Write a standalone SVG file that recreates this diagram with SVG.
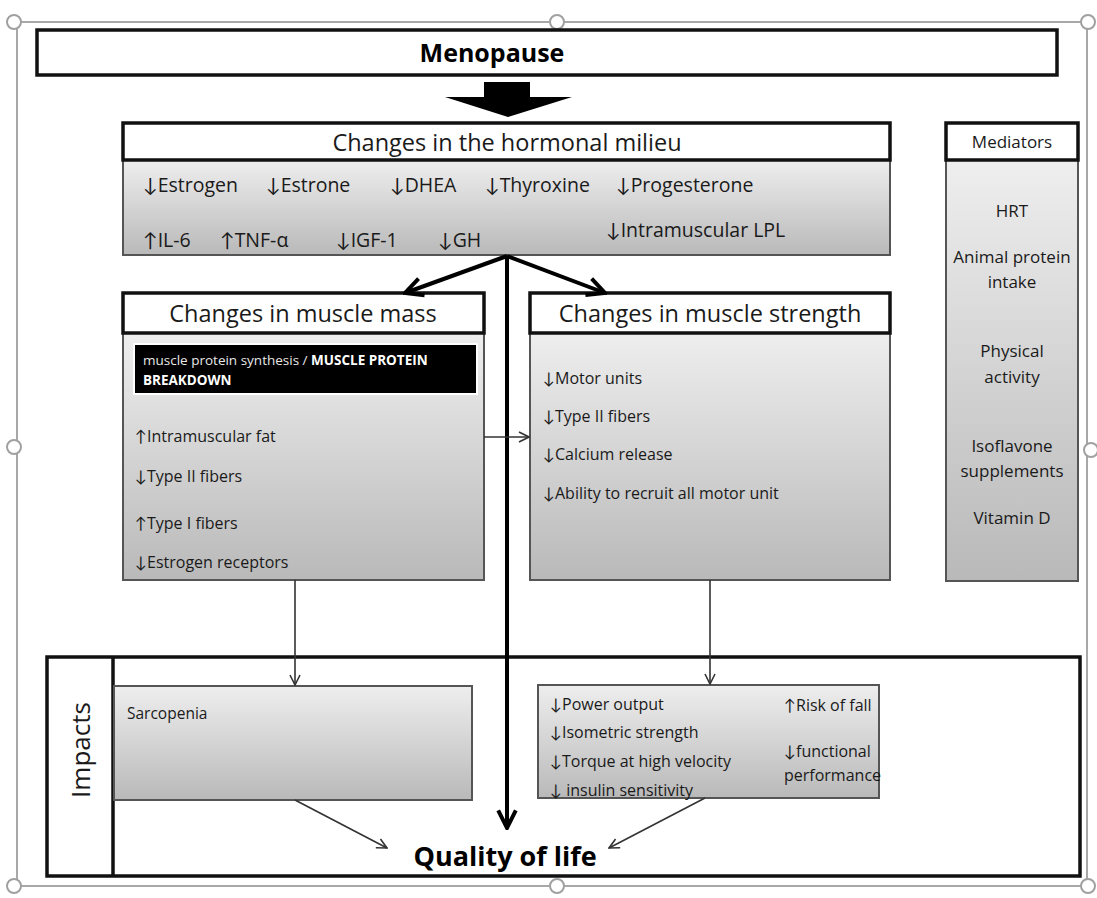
<svg xmlns="http://www.w3.org/2000/svg" width="1097" height="898" viewBox="0 0 1097 898">
  <defs>
    <linearGradient id="bodyFill" x1="0" y1="0" x2="0" y2="1">
      <stop offset="0" stop-color="#eeeeee"/>
      <stop offset="1" stop-color="#b9b9b9"/>
    </linearGradient>
    <marker id="openHead" viewBox="0 0 12 12" refX="11" refY="6" markerWidth="12" markerHeight="12" markerUnits="userSpaceOnUse" orient="auto">
      <path d="M1,1 L11,6 L1,11" fill="none" stroke="#333" stroke-width="1.6"/>
    </marker>
    <marker id="boldHead" viewBox="0 0 20 20" refX="18" refY="10" markerWidth="22" markerHeight="22" markerUnits="userSpaceOnUse" orient="auto">
      <path d="M2,2 L18,10 L2,18" fill="none" stroke="#000" stroke-width="3.6"/>
    </marker>
  </defs>
  <style>
    text { font-family: "Open Sans", "Liberation Sans", sans-serif; fill: #1a1a1a; }
    .ar { font-family: Lato, "DejaVu Sans", sans-serif; }
    .frame { fill: none; stroke: #a8a8a8; stroke-width: 2; }
    .handle { fill: #ffffff; stroke: #a0a0a0; stroke-width: 2; }
    .head { fill: #ffffff; stroke: #111; stroke-width: 3.5; }
    .body { fill: url(#bodyFill); stroke: #555; stroke-width: 2; }
    .outer { fill: none; stroke: #111; stroke-width: 3.5; }
    .title { font-size: 23.5px; text-anchor: middle; }
    .item { font-size: 19.5px; }
    .small { font-size: 16px; }
    .med { font-size: 17px; text-anchor: middle; }
    .thin { fill: none; stroke: #333; stroke-width: 1.6; marker-end: url(#openHead); }
    .bold { fill: none; stroke: #000; stroke-width: 4; marker-end: url(#boldHead); }
  </style>

  <rect width="1097" height="898" fill="#ffffff"/>

  <!-- canvas selection frame with handles -->
  <g id="canvas-frame">
    <rect class="frame" x="17" y="22" width="1070" height="864"/>
    <circle class="handle" cx="14" cy="22" r="7"/>
    <circle class="handle" cx="557" cy="22" r="7"/>
    <circle class="handle" cx="1088" cy="22" r="7"/>
    <circle class="handle" cx="14" cy="447" r="7"/>
    <circle class="handle" cx="1091" cy="450" r="7"/>
    <circle class="handle" cx="14" cy="886" r="7"/>
    <circle class="handle" cx="557" cy="886" r="7"/>
    <circle class="handle" cx="1088" cy="886" r="7"/>
  </g>

  <!-- Menopause -->
  <g id="menopause">
    <rect class="head" x="37" y="30" width="1020" height="45"/>
    <text x="492" y="62" font-size="25" font-weight="bold" text-anchor="middle" style="fill:#000">Menopause</text>
  </g>

  <!-- block arrow into hormonal milieu -->
  <g id="block-arrow">
    <polygon points="484,82 530,82 530,97 572,97 508,117 445,97 484,97" fill="#000"/>
  </g>

  <!-- Hormonal milieu -->
  <g id="hormonal">
    <rect class="body" x="123" y="160" width="767" height="95"/>
    <rect class="head" x="123" y="123" width="767" height="37"/>
    <text class="title" x="507" y="151" font-size="26">Changes in the hormonal milieu</text>
    <text class="item" x="143" y="192"><tspan class="ar">↓</tspan>Estrogen</text>
    <text class="item" x="266" y="192"><tspan class="ar">↓</tspan>Estrone</text>
    <text class="item" x="390" y="192"><tspan class="ar">↓</tspan>DHEA</text>
    <text class="item" x="485" y="192"><tspan class="ar">↓</tspan>Thyroxine</text>
    <text class="item" x="616" y="192"><tspan class="ar">↓</tspan>Progesterone</text>
    <text class="item" x="143" y="247"><tspan class="ar">↑</tspan>IL-6</text>
    <text class="item" x="220" y="247"><tspan class="ar">↑</tspan>TNF-α</text>
    <text class="item" x="336" y="247"><tspan class="ar">↓</tspan>IGF-1</text>
    <text class="item" x="438" y="247"><tspan class="ar">↓</tspan>GH</text>
    <text class="item" x="606" y="237"><tspan class="ar">↓</tspan>Intramuscular LPL</text>
  </g>

  <!-- Mediators -->
  <g id="mediators">
    <rect class="body" x="946" y="160" width="132" height="421"/>
    <rect class="head" x="946" y="123" width="132" height="37"/>
    <text class="med" x="1012" y="148">Mediators</text>
    <text class="med" x="1012" y="217">HRT</text>
    <text class="med" x="1012" y="263">Animal protein</text>
    <text class="med" x="1012" y="288">intake</text>
    <text class="med" x="1012" y="357">Physical</text>
    <text class="med" x="1012" y="383">activity</text>
    <text class="med" x="1012" y="452">Isoflavone</text>
    <text class="med" x="1012" y="477">supplements</text>
    <text class="med" x="1012" y="524">Vitamin D</text>
  </g>

  <!-- Muscle mass -->
  <g id="muscle-mass">
    <rect class="body" x="123" y="333" width="361" height="247"/>
    <rect class="head" x="123" y="293" width="361" height="40"/>
    <text class="title" x="303" y="322">Changes in muscle mass</text>
    <rect x="134" y="344" width="343" height="50" fill="#000" stroke="#ffffff" stroke-width="2"/>
    <text x="143" y="365" font-size="13.5" style="fill:#e8e8e8">muscle protein synthesis / <tspan font-weight="bold" style="fill:#ffffff">MUSCLE PROTEIN</tspan></text>
    <text x="143" y="385" font-size="13.5" font-weight="bold" style="fill:#ffffff">BREAKDOWN</text>
    <text class="small" x="135" y="442"><tspan class="ar">↑</tspan>Intramuscular fat</text>
    <text class="small" x="135" y="482"><tspan class="ar">↓</tspan>Type II fibers</text>
    <text class="small" x="135" y="529"><tspan class="ar">↑</tspan>Type I fibers</text>
    <text class="small" x="135" y="568"><tspan class="ar">↓</tspan>Estrogen receptors</text>
  </g>

  <!-- Muscle strength -->
  <g id="muscle-strength">
    <rect class="body" x="530" y="333" width="360" height="247"/>
    <rect class="head" x="530" y="293" width="360" height="40"/>
    <text class="title" x="710" y="322">Changes in muscle strength</text>
    <text class="small" x="543" y="384"><tspan class="ar">↓</tspan>Motor units</text>
    <text class="small" x="543" y="422"><tspan class="ar">↓</tspan>Type II fibers</text>
    <text class="small" x="543" y="460"><tspan class="ar">↓</tspan>Calcium release</text>
    <text class="small" x="543" y="499"><tspan class="ar">↓</tspan>Ability to recruit all motor unit</text>
  </g>

  <!-- Impacts -->
  <g id="impacts">
    <rect class="outer" x="47" y="657" width="1033" height="219"/>
    <line x1="113" y1="657" x2="113" y2="876" stroke="#111" stroke-width="3.5"/>
    <text x="0" y="0" font-size="26" text-anchor="middle" transform="translate(90,750) rotate(-90)">Impacts</text>
  </g>

  <g id="sarcopenia">
    <rect class="body" x="114" y="686" width="358" height="114"/>
    <text x="127" y="719" font-size="15.5">Sarcopenia</text>
  </g>

  <g id="strength-impacts">
    <rect class="body" x="538" y="685" width="341" height="113"/>
    <text class="small" x="550" y="710"><tspan class="ar">↓</tspan>Power output</text>
    <text class="small" x="550" y="738"><tspan class="ar">↓</tspan>Isometric strength</text>
    <text class="small" x="550" y="767"><tspan class="ar">↓</tspan>Torque at high velocity</text>
    <text class="small" x="550" y="796"><tspan class="ar">↓</tspan> insulin sensitivity</text>
    <text class="small" x="784" y="711" font-size="15.5"><tspan class="ar">↑</tspan>Risk of fall</text>
    <text class="small" x="784" y="757" font-size="14"><tspan class="ar">↓</tspan>functional</text>
    <text class="small" x="784" y="781" font-size="14">performance</text>
  </g>

  <g id="quality-of-life">
    <text x="505" y="866" font-size="27" font-weight="bold" text-anchor="middle" style="fill:#000">Quality of life</text>
  </g>

  <!-- connectors -->
  <g id="connectors">
    <line class="bold" x1="507" y1="256" x2="405" y2="293"/>
    <line class="bold" x1="507" y1="256" x2="605" y2="293"/>
    <line class="bold" x1="507" y1="256" x2="507" y2="828"/>
    <line class="thin" x1="484" y1="437" x2="529" y2="437"/>
    <line class="thin" x1="295" y1="580" x2="295" y2="685"/>
    <line class="thin" x1="710" y1="580" x2="710" y2="684"/>
    <line class="thin" x1="295" y1="800" x2="387" y2="848"/>
    <line class="thin" x1="705" y1="798" x2="609" y2="848"/>
  </g>
</svg>
